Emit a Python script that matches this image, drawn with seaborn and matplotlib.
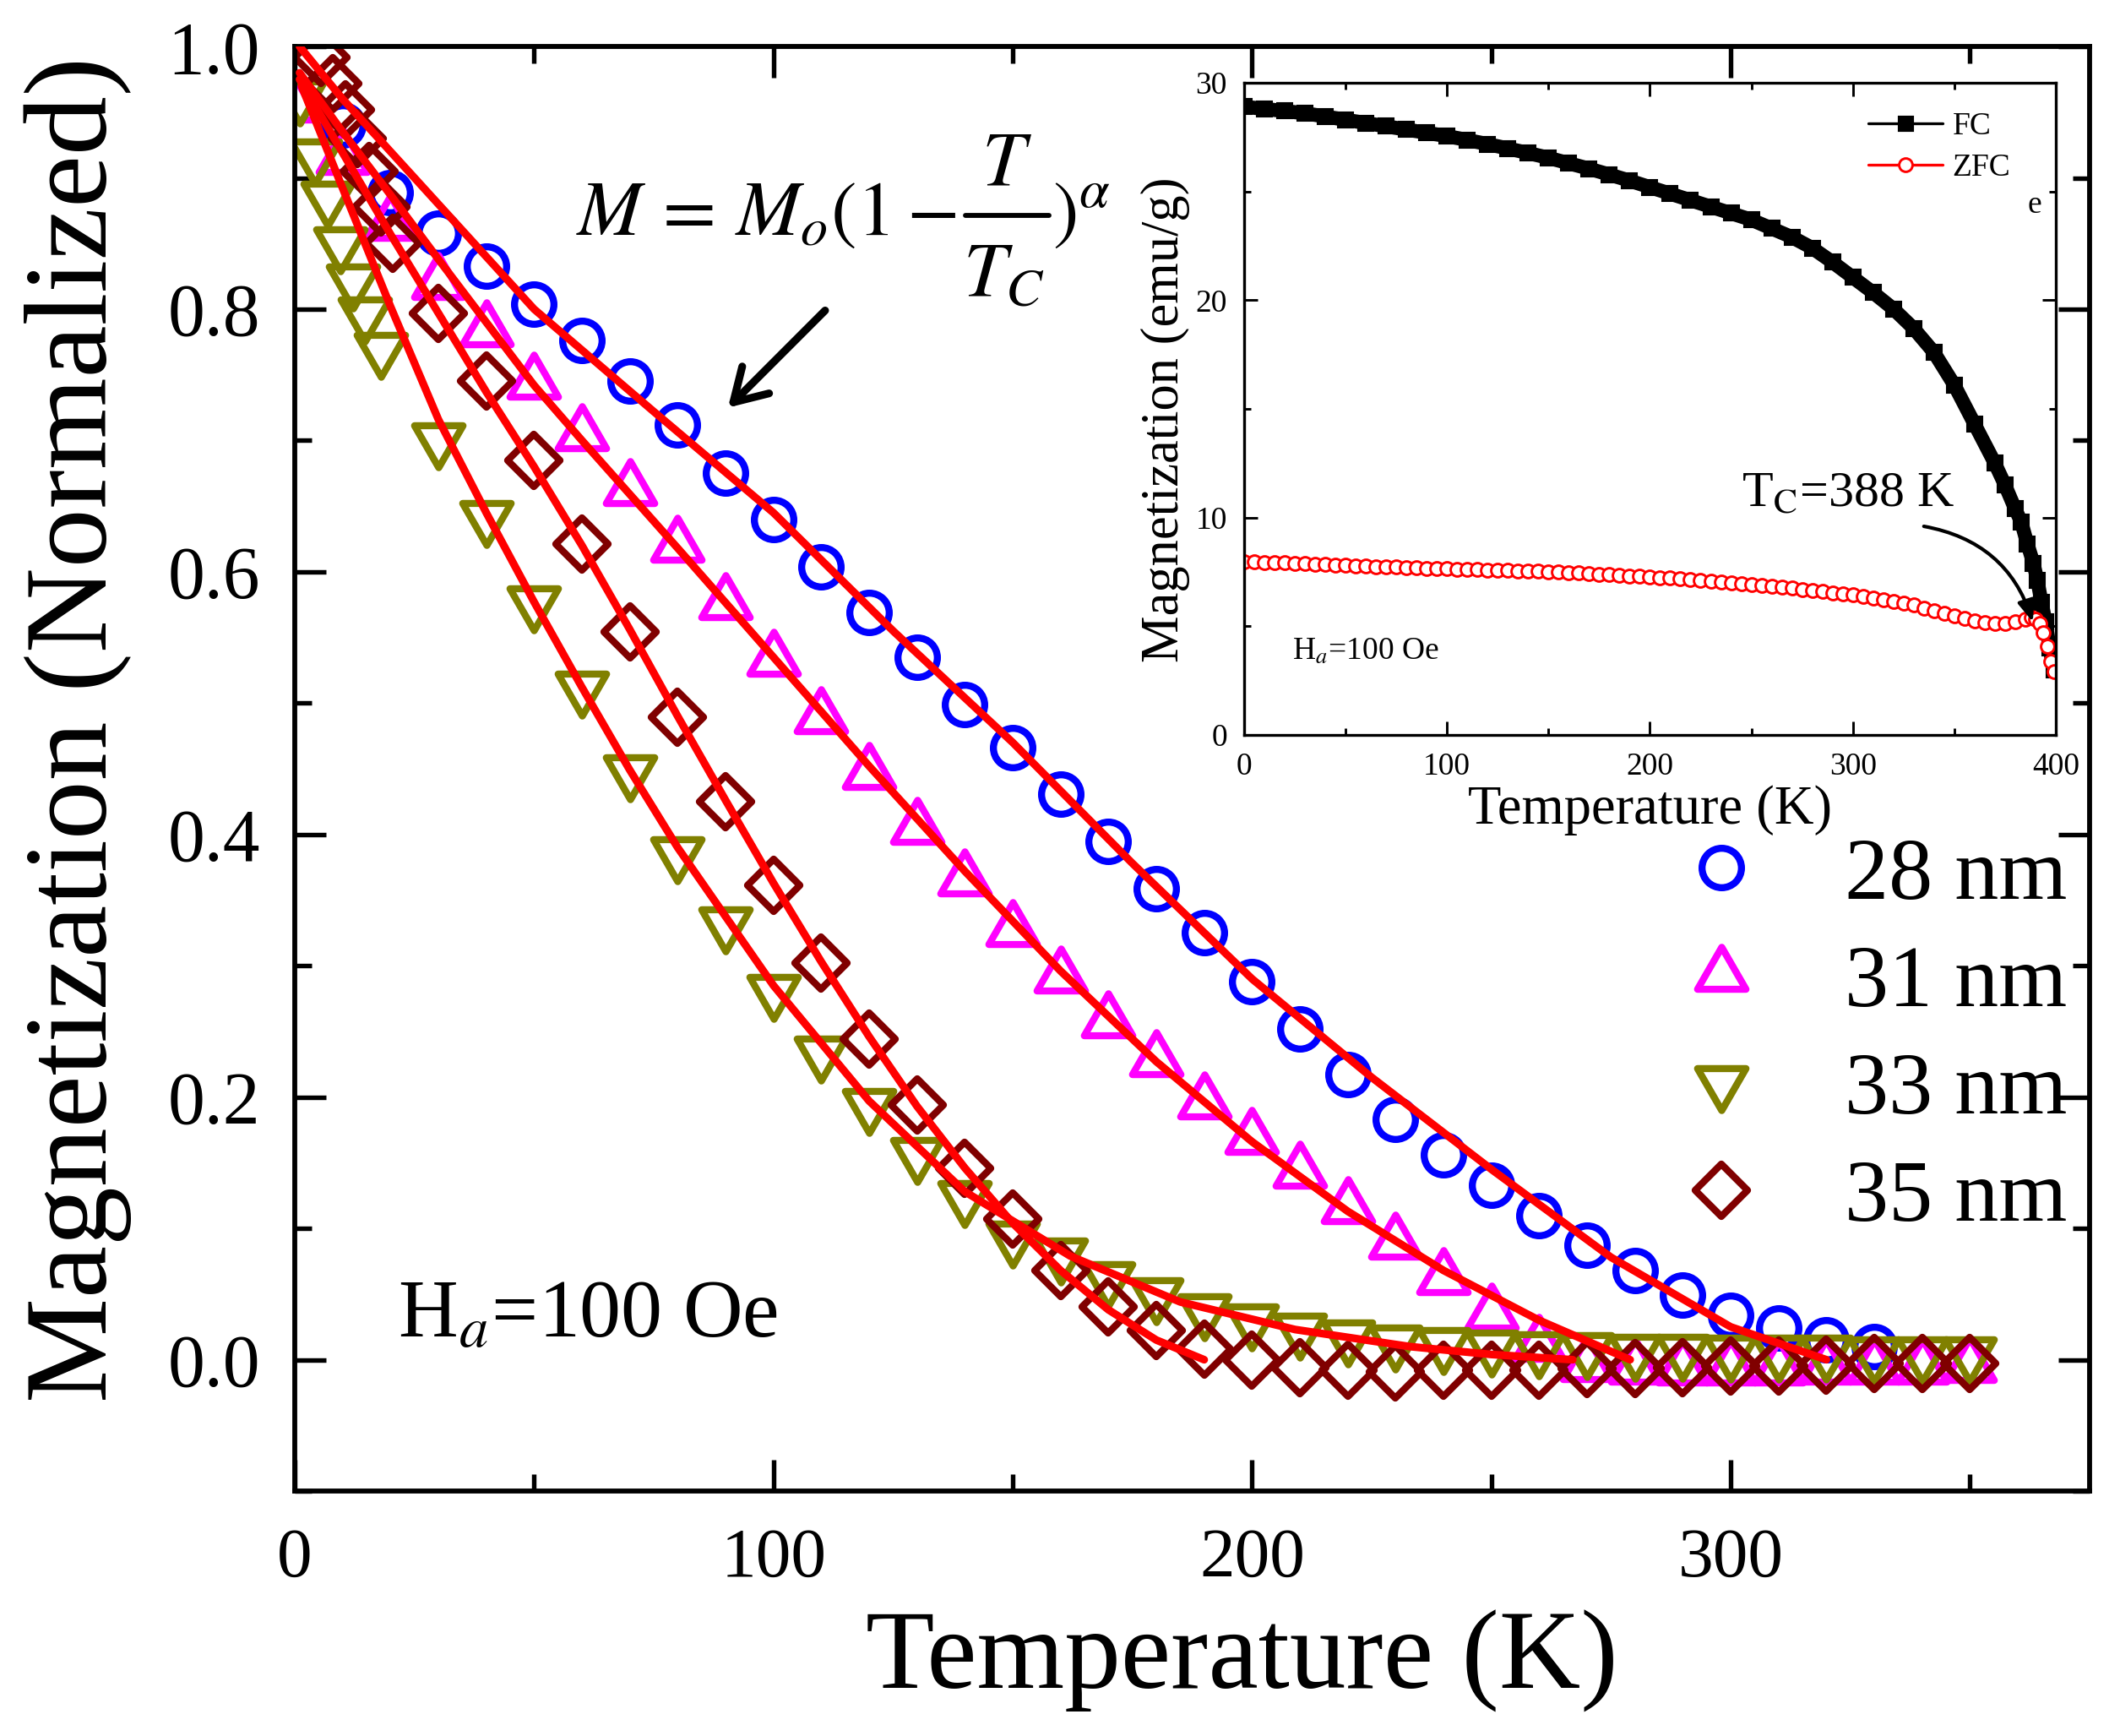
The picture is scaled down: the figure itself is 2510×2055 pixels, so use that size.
import matplotlib
matplotlib.use('Agg')
import matplotlib.pyplot as plt
import seaborn as sns
import numpy as np
from matplotlib.markers import MarkerStyle
from matplotlib.lines import Line2D
from matplotlib.ticker import MultipleLocator

sns.set_style('ticks')
plt.rcParams['font.family'] = ['Liberation Serif', 'DejaVu Serif']
plt.rcParams['mathtext.fontset'] = 'stix'
for k in ['text.color', 'axes.labelcolor', 'xtick.color', 'ytick.color', 'axes.edgecolor']:
    plt.rcParams[k] = 'black'

# main panel data
T_28 = [10, 20, 30, 40, 50, 60, 70, 80, 90, 100, 110, 120, 130, 140, 150, 160, 170,
        180, 190, 200, 210, 220, 230, 240, 250, 260, 270, 280, 290, 300, 310, 320, 330]
M_28 = [0.94, 0.889, 0.858, 0.833, 0.804, 0.776, 0.745, 0.712, 0.675, 0.640, 0.604,
        0.569, 0.535, 0.499, 0.466, 0.431, 0.395, 0.359, 0.325, 0.288, 0.252, 0.217,
        0.183, 0.156, 0.133, 0.110, 0.087, 0.068, 0.049, 0.034, 0.024, 0.015, 0.010]

T_31 = [0, 10, 20, 30, 40, 50, 60, 70, 80, 90, 100, 110, 120, 130, 140, 150, 160, 170,
        180, 190, 200, 210, 220, 230, 240, 250, 260, 270, 280, 290, 300, 310, 320, 330,
        340, 350]
M_31 = [0.955, 0.915, 0.865, 0.82, 0.784, 0.744, 0.705, 0.663, 0.620, 0.576, 0.533,
        0.489, 0.447, 0.405, 0.366, 0.327, 0.292, 0.258, 0.228, 0.196, 0.169, 0.143,
        0.116, 0.089, 0.062, 0.035, 0.011, -0.004, -0.006, -0.007, -0.007, -0.007,
        -0.006, -0.006, -0.006, -0.005]

T_33 = [1, 4.2, 6.9, 9.5, 12.2, 14.6, 18, 30, 40, 50, 60, 70, 80, 90, 100, 110, 120,
        130, 140, 150, 160, 170, 180, 190, 200, 210, 220, 230, 240, 250, 260, 270, 280,
        290, 300, 310, 320, 330, 340, 350]
M_33 = [0.963, 0.917, 0.885, 0.850, 0.822, 0.797, 0.770, 0.701, 0.642, 0.577, 0.512,
        0.448, 0.386, 0.332, 0.281, 0.234, 0.194, 0.157, 0.124, 0.093, 0.080, 0.062,
        0.050, 0.038, 0.030, 0.023, 0.018, 0.014, 0.012, 0.010, 0.009, 0.008, 0.007,
        0.007, 0.006, 0.006, 0.006, 0.005, 0.005, 0.005]

T_35 = [5.5, 8, 10.5, 13, 15.5, 18, 20.5, 30, 40, 50, 60, 70, 80, 90, 100, 110, 120,
        130, 140, 150, 160, 170, 180, 190, 200, 210, 220, 230, 240, 250, 260, 270, 280,
        290, 300, 310, 320, 330, 340, 350]
M_35 = [0.992, 0.972, 0.952, 0.93, 0.905, 0.878, 0.850, 0.797, 0.745, 0.685, 0.621,
        0.554, 0.489, 0.425, 0.361, 0.302, 0.244, 0.194, 0.146, 0.107, 0.068, 0.040,
        0.022, 0.008, 0.0, -0.006, -0.008, -0.009, -0.008, -0.008, -0.008, -0.007,
        -0.007, -0.006, -0.005, -0.005, -0.004, -0.003, -0.003, -0.003]

# fitted curves
fit28_T = [1, 10, 20, 30, 40, 50, 75, 100, 125, 150, 175, 200, 225, 250, 275, 300, 320]
fit28_M = [1.0, 0.96, 0.92, 0.88, 0.84, 0.80, 0.722, 0.645, 0.555, 0.470, 0.378, 0.290,
           0.215, 0.145, 0.078, 0.025, 0.0]
fit31_T = [1, 10, 20, 30, 40, 50, 60, 80, 100, 120, 140, 160, 180, 200, 220, 240, 260, 279]
fit31_M = [0.98, 0.935, 0.887, 0.838, 0.79, 0.742, 0.70, 0.618, 0.535, 0.452, 0.372,
           0.296, 0.227, 0.166, 0.113, 0.068, 0.030, 0.0]
fit33_T = [1.4, 10, 20, 30, 40, 50, 60, 70, 80, 100, 120, 140, 162, 185, 209, 233, 250, 267]
fit33_M = [0.97, 0.892, 0.802, 0.716, 0.645, 0.577, 0.512, 0.449, 0.39, 0.285, 0.197,
           0.128, 0.079, 0.044, 0.023, 0.010, 0.004, 0.0]
fit35_T = [1, 10, 20, 30, 40, 50, 60, 70, 80, 90, 100, 110, 120, 130, 140, 150, 160,
           170, 180, 190]
fit35_M = [0.975, 0.919, 0.857, 0.797, 0.737, 0.680, 0.620, 0.556, 0.490, 0.426, 0.363,
           0.303, 0.246, 0.193, 0.146, 0.104, 0.068, 0.038, 0.015, 0.0]

labels = ['28 nm', '31 nm', '33 nm', '35 nm']
colors = ['#0000FF', '#FF00FF', '#808000', '#800000']

# inset data (FC / ZFC, emu/g)
FC_T = [0, 10, 20, 30, 40, 50, 60, 70, 80, 90, 100, 110, 120, 130, 140, 150, 160, 170,
        180, 190, 200, 210, 220, 230, 240, 250, 260, 270, 280, 290, 300, 310, 320, 330,
        340, 350, 360, 370, 375, 380, 383, 386, 389, 391, 393, 395, 397, 399]
FC_M = [28.9, 28.8, 28.7, 28.6, 28.45, 28.3, 28.15, 28.0, 27.85, 27.7, 27.55, 27.37,
        27.18, 26.98, 26.77, 26.55, 26.3, 26.05, 25.78, 25.5, 25.2, 24.9, 24.6, 24.3,
        24.0, 23.7, 23.3, 22.9, 22.4, 21.75, 21.05, 20.35, 19.6, 18.7, 17.6, 16.1, 14.3,
        12.5, 11.5, 10.4, 9.8, 8.8, 7.9, 7.1, 6.1, 5.2, 4.0, 3.0]

ZFC_T = [0, 5, 10, 15, 20, 25, 30, 35, 40, 45, 50, 55, 60, 65, 70, 75, 80, 85, 90, 95,
         100, 105, 110, 115, 120, 125, 130, 135, 140, 145, 150, 155, 160, 165, 170, 175,
         180, 185, 190, 195, 200, 205, 210, 215, 220, 225, 230, 235, 240, 245, 250, 255,
         260, 265, 270, 275, 280, 285, 290, 295, 300, 305, 310, 315, 320, 325, 330, 335,
         340, 345, 350, 355, 360, 365, 370, 375, 380, 385, 388, 390, 392, 394, 396,
         397.5, 399]
ZFC_M = [7.95, 7.95, 7.94, 7.93, 7.92, 7.90, 7.88, 7.86, 7.84, 7.82, 7.80, 7.78, 7.77,
         7.75, 7.73, 7.72, 7.70, 7.68, 7.67, 7.65, 7.64, 7.63, 7.62, 7.60, 7.59, 7.58,
         7.57, 7.55, 7.54, 7.53, 7.52, 7.50, 7.47, 7.45, 7.42, 7.40, 7.37, 7.34, 7.32,
         7.30, 7.28, 7.25, 7.22, 7.19, 7.15, 7.12, 7.08, 7.04, 7.00, 6.96, 6.92, 6.88,
         6.84, 6.79, 6.75, 6.70, 6.65, 6.60, 6.55, 6.50, 6.45, 6.38, 6.30, 6.22, 6.13,
         6.05, 5.97, 5.85, 5.72, 5.60, 5.48, 5.36, 5.25, 5.18, 5.14, 5.14, 5.20, 5.32,
         5.40, 5.32, 5.12, 4.70, 4.07, 3.40, 2.90]

fig = plt.figure(figsize=(2511 / 300, 2055 / 300), dpi=300)
ax = fig.add_axes([0.1390, 0.1411, 0.8463, 0.8321])

mk_circle = MarkerStyle('o')
mk_up = MarkerStyle((3, 0, 0), joinstyle='round')
mk_down = MarkerStyle((3, 0, 180), joinstyle='round')
mk_diam = MarkerStyle('D', joinstyle='round')
markers = [mk_circle, mk_up, mk_down, mk_diam]
msizes = [11.2, 15.9, 15.9, 10.6]

series = [(T_28, M_28), (T_31, M_31), (T_33, M_33), (T_35, M_35)]
for (T, M), mk, col, ms in zip(series, markers, colors, msizes):
    sns.lineplot(x=T, y=M, ax=ax, marker=mk, linestyle='none', markersize=ms,
                 markerfacecolor='none', markeredgecolor=col, markeredgewidth=2.0,
                 color=col, estimator=None, sort=False, legend=False)

for T, M in [(fit28_T, fit28_M), (fit31_T, fit31_M), (fit33_T, fit33_M), (fit35_T, fit35_M)]:
    sns.lineplot(x=T, y=M, ax=ax, color='#FF0000', lw=2.2, estimator=None, sort=False,
                 legend=False, zorder=5)

ax.set_xlim(0, 375)
ax.set_ylim(-0.1, 1.0)
ax.xaxis.set_major_locator(MultipleLocator(100))
ax.xaxis.set_minor_locator(MultipleLocator(50))
ax.yaxis.set_major_locator(MultipleLocator(0.2))
ax.yaxis.set_minor_locator(MultipleLocator(0.1))
ax.yaxis.set_major_formatter(plt.FuncFormatter(lambda v, p: f'{v:.1f}'))
ax.tick_params(which='both', direction='in', top=True, right=True, width=1.3,
               color='black', labelcolor='black')
ax.tick_params(which='major', length=8.9)
ax.tick_params(which='minor', length=4.8)
ax.tick_params(axis='x', labelsize=20, pad=10.5)
ax.tick_params(axis='y', labelsize=21, pad=9.8)
for s in ax.spines.values():
    s.set_linewidth(1.4)
    s.set_color('black')

ax.set_xlabel('Temperature (K)', fontsize=32, va='center')
ax.set_ylabel('Magnetization (Normalized)', fontsize=33.5, va='center')
ax.xaxis.set_label_coords(0.5275, -0.1175)
ax.yaxis.set_label_coords(-0.121, 0.527)

# formula, built from pieces so the fraction keeps full size
ax.text(138.2, 0.8565, r'$M\,=\,M_o(1-$', fontsize=22, ha='right', va='baseline')
ax.text(148.8, 0.8951, r'$T$', fontsize=22, ha='center', va='baseline')
ax.text(148.1, 0.8102, r'$T_C$', fontsize=22, ha='center', va='baseline')
fig.add_artist(Line2D([0.4552, 0.4946], [0.8759, 0.8759], transform=fig.transFigure,
                      color='black', lw=1.4))
ax.text(158.2, 0.8565, r'$)^{\alpha}$', fontsize=22, ha='left', va='baseline')

ax.annotate('', xy=(90.5, 0.725), xytext=(110.8, 0.799),
            arrowprops=dict(arrowstyle='->,head_length=0.45,head_width=0.27', lw=2.2,
                            color='black', mutation_scale=20, shrinkA=0, shrinkB=0))
ax.text(21.5, 0.017, r'H$_{a}$=100 Oe', fontsize=23.5, ha='left', va='baseline')

handles = [Line2D([], [], marker=mk, linestyle='none', markersize=ms, markerfacecolor='none',
                  markeredgecolor=col, markeredgewidth=2.0)
           for mk, col, ms in zip(markers, colors, msizes)]
ax.legend(handles, labels, loc='center left', bbox_to_anchor=(0.791, 0.402),
          bbox_transform=fig.transFigure, frameon=False, fontsize=25, handlelength=1.0,
          handletextpad=0.9, labelspacing=0.31, borderpad=0, borderaxespad=0)

# inset
axin = fig.add_axes([0.5866, 0.5766, 0.3827, 0.3757])
axin.set_facecolor('white')
sns.lineplot(x=FC_T, y=FC_M, ax=axin, color='black', lw=4.0, marker='s', markersize=4.2,
             markerfacecolor='black', markeredgecolor='black', markeredgewidth=0.5,
             estimator=None, sort=False, legend=False)
sns.lineplot(x=ZFC_T, y=ZFC_M, ax=axin, color='#FF0000', lw=0.8, marker='o',
             markersize=3.8, markerfacecolor='white', markeredgecolor='#FF0000',
             markeredgewidth=0.7, estimator=None, sort=False, legend=False)
axin.set_xlim(0, 400)
axin.set_ylim(0, 30)
axin.xaxis.set_major_locator(MultipleLocator(100))
axin.xaxis.set_minor_locator(MultipleLocator(50))
axin.yaxis.set_major_locator(MultipleLocator(10))
axin.yaxis.set_minor_locator(MultipleLocator(5))
axin.tick_params(which='both', direction='in', top=True, right=True, width=0.7,
                 labelsize=9, pad=4.8, color='black', labelcolor='black')
axin.tick_params(which='major', length=3.8)
axin.tick_params(which='minor', length=2.0)
for s in axin.spines.values():
    s.set_linewidth(0.8)
    s.set_color('black')
axin.set_xlabel('Temperature (K)', fontsize=15.5, va='center')
axin.set_ylabel('Magnetization (emu/g)', fontsize=15, va='center')
axin.xaxis.set_label_coords(0.5, -0.115)
axin.yaxis.set_label_coords(-0.097, 0.483)

axin.text(245, 10.5, r'T$_{\rm C}$=388 K', fontsize=14.4, ha='left', va='baseline')
axin.annotate('', xy=(388.7, 5.2), xytext=(335, 9.6),
              arrowprops=dict(arrowstyle='-|>,head_length=0.5,head_width=0.2', lw=1.0,
                              color='black', mutation_scale=10,
                              connectionstyle='arc3,rad=-0.3', shrinkA=0, shrinkB=0))
axin.text(23.7, 3.46, r'H$_{a}$=100 Oe', fontsize=9, ha='left', va='baseline')
axin.text(386, 24.0, 'e', fontsize=9, ha='left', va='baseline')

in_handles = [Line2D([], [], color='black', lw=0.8, marker='s', markersize=3.6),
              Line2D([], [], color='#FF0000', lw=0.8, marker='o', markersize=3.8,
                     markerfacecolor='white', markeredgewidth=0.7)]
axin.legend(in_handles, ['FC', 'ZFC'], loc='center left', bbox_to_anchor=(0.881, 0.9153),
            bbox_transform=fig.transFigure, frameon=False, fontsize=9, handlelength=2.35,
            handletextpad=0.3, labelspacing=0.38, borderpad=0, borderaxespad=0)

fig.savefig('out.png', dpi=300)
